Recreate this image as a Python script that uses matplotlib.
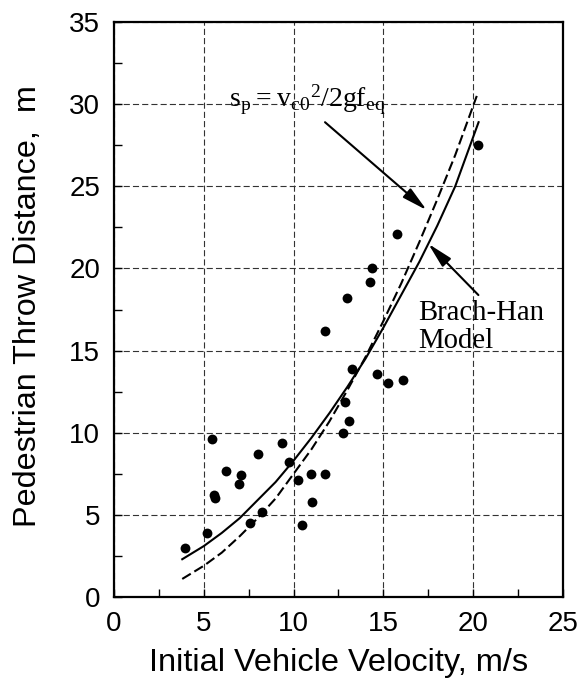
"""
Pedestrian throw distance vs initial vehicle velocity
"""
import matplotlib
matplotlib.use('Agg')
import matplotlib.pyplot as plt
from matplotlib.ticker import MultipleLocator

test_v = [3.95, 5.16, 5.44, 5.57, 5.64, 6.24, 6.94, 7.05, 7.57, 8.04, 8.24,
          9.34, 9.76, 10.26, 10.45, 10.95, 11.04, 11.75, 11.75, 12.75, 12.84,
          12.96, 13.1, 13.23, 14.28, 14.35, 14.62, 15.24, 15.74, 16.11, 20.25]
test_s = [3.0, 3.9, 9.6, 6.2, 6.0, 7.7, 6.9, 7.4, 4.5, 8.7, 5.2,
          9.4, 8.2, 7.1, 4.4, 7.5, 5.8, 7.5, 16.2, 10.0, 11.9,
          18.2, 10.7, 13.9, 19.2, 20.0, 13.6, 13.0, 22.1, 13.2, 27.5]

# Brach-Han model curve
model_v = [3.8, 5, 6, 7, 8, 9, 10, 11, 12, 13, 14, 15, 16, 17, 18, 19, 20, 20.3]
model_s = [2.3, 3.1, 3.9, 4.8, 5.9, 7.0, 8.3, 9.7, 11.2, 12.8, 14.5, 16.4,
           18.4, 20.4, 22.6, 25.0, 28.0, 28.9]

# sp = vc0^2 / 2 g f_eq curve
simple_v = [3.8, 5, 6, 7, 8, 9, 10, 11, 12, 13, 14, 15, 16, 17, 18, 19, 20, 20.2]
simple_s = [1.1, 1.9, 2.7, 3.7, 4.8, 6.0, 7.5, 9.0, 10.7, 12.6, 14.6, 16.8,
            19.1, 21.6, 24.2, 26.9, 29.9, 30.5]

SANS = 'Liberation Sans'
SERIF = 'Liberation Serif'

fig = plt.figure(figsize=(5.81, 6.83), dpi=100)
ax = fig.add_axes([0.1962, 0.1259, 0.7728, 0.8419])

ax.scatter(test_v, test_s, s=50, color='black', zorder=4, linewidths=0)
ax.plot(model_v, model_s, color='black', lw=1.5, zorder=3)
ax.plot(simple_v, simple_s, color='black', lw=1.5, zorder=3,
        dashes=(4.8, 2.0))

ax.set_xlim(0, 25)
ax.set_ylim(0, 35)
ax.xaxis.set_major_locator(MultipleLocator(5))
ax.xaxis.set_minor_locator(MultipleLocator(2.5))
ax.yaxis.set_major_locator(MultipleLocator(5))
ax.yaxis.set_minor_locator(MultipleLocator(2.5))

ax.tick_params(which='both', direction='in', length=6, width=1,
               top=False, right=False)
ax.tick_params(axis='x', which='major', pad=10)
ax.tick_params(axis='y', which='major', pad=10)
for lab in ax.get_xticklabels() + ax.get_yticklabels():
    lab.set_fontfamily(SANS)
    lab.set_fontsize(20)

ax.grid(which='major', color='#333333', lw=0.8, dashes=(5.5, 2.8))
ax.set_axisbelow(True)
for sp in ax.spines.values():
    sp.set_linewidth(1.6)

ax.set_xlabel('Initial Vehicle Velocity, m/s', fontfamily=SANS,
              fontsize=23.4, labelpad=8)
ax.set_ylabel('Pedestrian Throw Distance,  m', fontfamily=SANS,
              fontsize=23.3)
ax.yaxis.set_label_coords(-0.158, 0.506)

# annotations
arrow = dict(arrowstyle='-|>,head_length=0.85,head_width=0.2',
             color='black', lw=1.5, mutation_scale=18,
             shrinkA=0, shrinkB=0)
ax.annotate('', xy=(17.41, 23.55), xytext=(11.75, 28.9), arrowprops=arrow)
ax.annotate('', xy=(17.5, 21.5), xytext=(20.29, 18.38), arrowprops=arrow)

ax.text(6.42, 29.84, r'$\mathregular{s_p= v_{c0}{}^2/2gf_{eq}}$',
        fontfamily=SERIF, fontsize=20, ha='left', va='baseline')
ax.text(16.94, 15.14, 'Brach-Han\nModel', fontfamily=SERIF, fontsize=20.7,
        ha='left', va='baseline', linespacing=1.1)

fig.savefig('out.png', dpi=100)
